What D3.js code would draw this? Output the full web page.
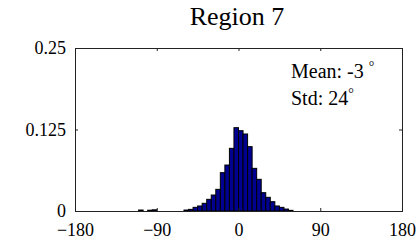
<!DOCTYPE html>
<html>
<head>
<meta charset="utf-8">
<script src="https://cdn.jsdelivr.net/npm/d3@7"></script>
<style>
  html, body { margin: 0; padding: 0; background: #fff; }
  svg { display: block; }
  text { font-family: "Liberation Serif", "Times New Roman", serif; fill: #000; }
</style>
</head>
<body>
<svg id="chart" width="419" height="248"></svg>
<script>
// ---- data ----
const title = "Region 7";
const binWidth = 5;
const binLeft = [-110, -100, -95, -60, -55, -50, -45, -40, -35, -30, -25, -20, -15, -10, -5,
                 0, 5, 10, 15, 20, 25, 30, 35, 40, 45, 50, 55];
const freq = [0.0015, 0.0012, 0.0018, 0.0015, 0.0025, 0.0056, 0.0077, 0.0118, 0.0179, 0.0245,
              0.0332, 0.0588, 0.0705, 0.0961, 0.1278,
              0.1232, 0.1181, 0.0987, 0.0654, 0.0486, 0.0281, 0.0210, 0.0143, 0.0077, 0.0056, 0.0030, 0.0010];
const xTicks = [-180, -90, 0, 90, 180];
const yTicks = [0, 0.125, 0.25];
const yTickLabels = ["0", "0.125", "0.25"];
const meanText = "Mean: -3";
const stdText = "Std: 24";

// ---- layout ----
const svg = d3.select("#chart");
const L = 75, R = 402, T = 48, B = 211;
const x = d3.scaleLinear().domain([-180, 180]).range([L, R]);
const y = d3.scaleLinear().domain([0, 0.25]).range([B, T]);

// bars
const bins = binLeft.map((b, i) => ({ x0: b, x1: b + binWidth, v: freq[i] }));
svg.append("g").selectAll("rect").data(bins).join("rect")
  .attr("x", d => x(d.x0))
  .attr("y", d => y(d.v))
  .attr("width", d => x(d.x1) - x(d.x0))
  .attr("height", d => y(0) - y(d.v))
  .attr("fill", "#000090")
  .attr("stroke", "#000")
  .attr("stroke-width", 1);

// axes
const fontSize = 18;
function styleAxis(g) {
  g.select(".domain").remove();
  g.selectAll(".tick line").attr("stroke", "#222");
  g.selectAll(".tick text").attr("font-size", fontSize).attr("font-family", "Liberation Serif");
}
svg.append("g").attr("transform", `translate(0,${B})`)
  .call(d3.axisBottom(x).tickValues(xTicks).tickSizeInner(-3).tickSizeOuter(0).tickPadding(12)
        .tickFormat(d3.format("d")))
  .call(styleAxis);
svg.append("g").attr("transform", `translate(0,${T})`)
  .call(d3.axisTop(x).tickValues(xTicks).tickSizeInner(-3).tickSizeOuter(0).tickFormat(""))
  .call(styleAxis);
svg.append("g").attr("transform", `translate(${L},0)`)
  .call(d3.axisLeft(y).tickValues(yTicks).tickSizeInner(-3).tickSizeOuter(0).tickPadding(9)
        .tickFormat((d, i) => yTickLabels[i]))
  .call(styleAxis);
svg.append("g").attr("transform", `translate(${R},0)`)
  .call(d3.axisRight(y).tickValues(yTicks).tickSizeInner(-3).tickSizeOuter(0).tickFormat(""))
  .call(styleAxis);

// box
svg.append("rect")
  .attr("x", L).attr("y", T).attr("width", R - L).attr("height", B - T)
  .attr("fill", "none").attr("stroke", "#222").attr("stroke-width", 1)
  .attr("shape-rendering", "crispEdges");

// title
svg.append("text").attr("x", 237).attr("y", 25)
  .attr("text-anchor", "middle").attr("font-size", 26).text(title);

// annotations
const ann = svg.append("g").attr("font-size", 20);
const t1 = ann.append("text").attr("x", 291).attr("y", 78);
t1.append("tspan").text(meanText + " ");
t1.append("tspan").attr("dy", -7).attr("font-size", 14).text("°");
const t2 = ann.append("text").attr("x", 291).attr("y", 105);
t2.append("tspan").text(stdText);
t2.append("tspan").attr("dy", -7).attr("font-size", 14).text("°");
</script>
</body>
</html>
